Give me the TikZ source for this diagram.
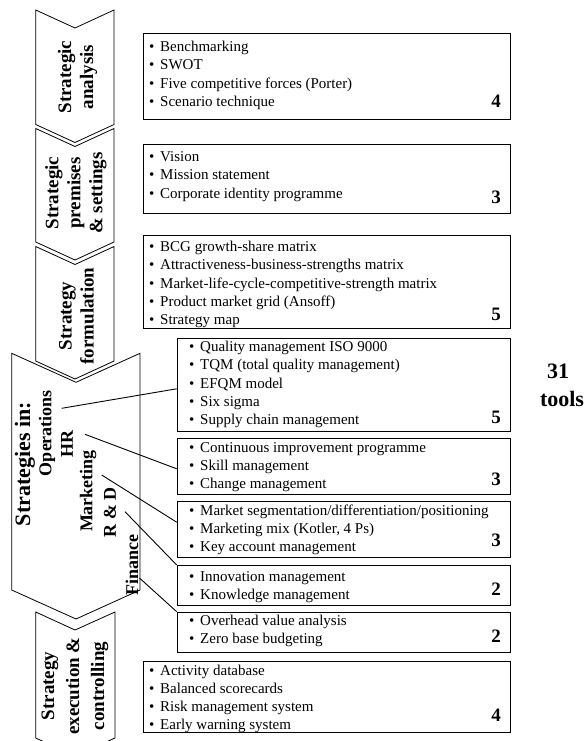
\documentclass[tikz,border=0pt]{standalone}
\usepackage{fontspec}
\setmainfont{Liberation Serif}
\newcommand{\tbul}{\makebox[11pt][l]{•}}
\begin{document}
\begin{tikzpicture}[x=1pt,y=-1pt,
  chev/.style={draw=black, line width=0.8pt, line join=miter},
  box/.style={draw=black, line width=1pt, inner sep=0pt, anchor=north west},
  item/.style={anchor=base west, inner sep=0pt, font=\fontsize{15}{18}\selectfont},
  num/.style={anchor=base east, inner sep=0pt, font=\fontsize{19}{22}\bfseries\selectfont},
  clab/.style={rotate=90, align=center, inner sep=0pt, font=\fontsize{19}{22}\bfseries\selectfont},
  sublab/.style={rotate=90, inner sep=0pt, font=\fontsize{18}{21}\bfseries\selectfont},
  tot/.style={anchor=base, inner sep=0pt, font=\fontsize{22}{26}\bfseries\selectfont},
  conn/.style={draw=black, line width=0.9pt}]
\useasboundingbox (0,0) rectangle (586,741);

% chevrons
\draw[chev] (35.7,10) -- (75,28) -- (114,10) -- (114,124.5) -- (75,142.5) -- (35.7,124.5) -- cycle;
\draw[chev] (35.7,128.5) -- (75,146.5) -- (114,128.5) -- (114,242) -- (75,260) -- (35.7,242) -- cycle;
\draw[chev] (35.7,246.5) -- (75,264.5) -- (114,246.5) -- (114,361) -- (75,379) -- (35.7,361) -- cycle;
\draw[chev] (11.7,353.3) -- (76,382.3) -- (140,353.3) -- (140,590) -- (76,619) -- (11.7,590) -- cycle;
\begin{scope}
\clip (0,0) rectangle (586,741);
\draw[chev] (35.7,612) -- (75,630) -- (115,612) -- (115,738) -- (75,756) -- (35.7,738) -- cycle;
\end{scope}

% chevron labels
\node[clab] (c1) at (77.5,77) {Strategic\\analysis};
\node[clab] (c2) at (76,193) {Strategic\\premises\\\& settings};
\node[clab] (c3) at (76.5,316) {Strategy\\formulation};
\node[clab, font=\fontsize{22}{26}\bfseries\selectfont] (c4) at (25,464) {Strategies in:};
\node[sublab] (ops) at (47,433) {Operations};
\node[sublab] (hr) at (67,444) {HR};
\node[sublab] (mkt) at (88,491) {Marketing};
\node[sublab] (rd) at (110,512) {R \& D};
\node[sublab] (fin) at (132,565) {Finance};
\node[clab, font=\fontsize{19}{25}\bfseries\selectfont] (c5) at (75,686) {Strategy\\execution \&\\controlling};

% boxes
\node[box, minimum width=366.7pt, minimum height=85.7pt] (b1) at (143.3,33.3) {};
\node[box, minimum width=366.7pt, minimum height=69.3pt] (b2) at (143.3,144) {};
\node[box, minimum width=366.7pt, minimum height=93.3pt] (b3) at (143.3,235) {};
\node[box, minimum width=333.3pt, minimum height=92.7pt] (b4) at (176.7,338.3) {};
\node[box, minimum width=333.3pt, minimum height=56.3pt] (b5) at (176.7,437.7) {};
\node[box, minimum width=333.3pt, minimum height=56.3pt] (b6) at (176.7,501) {};
\node[box, minimum width=333.3pt, minimum height=40pt] (b7) at (176.7,565) {};
\node[box, minimum width=333.3pt, minimum height=40pt] (b8) at (176.7,611.7) {};
\node[box, minimum width=366.7pt, minimum height=71pt] (b9) at (143.3,660.7) {};

% items
\node[item] (b1a) at (149,51.7) {\tbul Benchmarking};
\node[item] (b1b) at (149,69.9) {\tbul SWOT};
\node[item] (b1c) at (149,88.1) {\tbul Five competitive forces (Porter)};
\node[item] (b1d) at (149,106.3) {\tbul Scenario technique};

\node[item] (b2a) at (149,161.7) {\tbul Vision};
\node[item] (b2b) at (149,179.9) {\tbul Mission statement};
\node[item] (b2c) at (149,198.1) {\tbul Corporate identity programme};

\node[item] (b3a) at (149,251.7) {\tbul BCG growth-share matrix};
\node[item] (b3b) at (149,269.9) {\tbul Attractiveness-business-strengths matrix};
\node[item] (b3c) at (149,288.1) {\tbul Market-life-cycle-competitive-strength matrix};
\node[item] (b3d) at (149,306.3) {\tbul Product market grid (Ansoff)};
\node[item] (b3e) at (149,324.5) {\tbul Strategy map};

\node[item] (b4a) at (189,351.7) {\tbul Quality management ISO 9000};
\node[item] (b4b) at (189,369.9) {\tbul TQM (total quality management)};
\node[item] (b4c) at (189,388.1) {\tbul EFQM model};
\node[item] (b4d) at (189,406.3) {\tbul Six sigma};
\node[item] (b4e) at (189,424.5) {\tbul Supply chain management};

\node[item] (b5a) at (189,452.4) {\tbul Continuous improvement programme};
\node[item] (b5b) at (189,470.6) {\tbul Skill management};
\node[item] (b5c) at (189,488.8) {\tbul Change management};

\node[item] (b6a) at (189,515.1) {\tbul Market segmentation/differentiation/positioning};
\node[item] (b6b) at (189,533.3) {\tbul Marketing mix (Kotler, 4 Ps)};
\node[item] (b6c) at (189,551.5) {\tbul Key account management};

\node[item] (b7a) at (189,581.1) {\tbul Innovation management};
\node[item] (b7b) at (189,599.3) {\tbul Knowledge management};

\node[item] (b8a) at (189,625.7) {\tbul Overhead value analysis};
\node[item] (b8b) at (189,643.9) {\tbul Zero base budgeting};

\node[item] (b9a) at (149,675.1) {\tbul Activity database};
\node[item] (b9b) at (149,693.3) {\tbul Balanced scorecards};
\node[item] (b9c) at (149,711.5) {\tbul Risk management system};
\node[item] (b9d) at (149,729.7) {\tbul Early warning system};

% counts
\node[num] (n1) at (501,107.3) {4};
\node[num] (n2) at (501,203.3) {3};
\node[num] (n3) at (501,320) {5};
\node[num] (n4) at (501,423) {5};
\node[num] (n5) at (501,485) {3};
\node[num] (n6) at (501,546.7) {3};
\node[num] (n7) at (501,595) {2};
\node[num] (n8) at (501,642) {2};
\node[num] (n9) at (501,721) {4};

\node[tot] (t31) at (558,378.3) {31};
\node[tot] (ttools) at (562,406) {tools};

% connectors
\coordinate (pops) at (61.7,408.3);
\coordinate (phr) at (85,434.3);
\coordinate (pmkt) at (101.7,475);
\coordinate (prd) at (125,511.7);
\coordinate (pfin) at (139.5,578);
\draw[conn] (pops) -- ([yshift=-3.65pt]b4.west);
\draw[conn] (phr) -- ([yshift=-2.45pt]b5.west);
\draw[conn] (pmkt) -- ([yshift=7.45pt]b6.west);
\draw[conn] (prd) -- (b7.north west);
\draw[conn] (pfin) -- (b8.north west);
\end{tikzpicture}
\end{document}
